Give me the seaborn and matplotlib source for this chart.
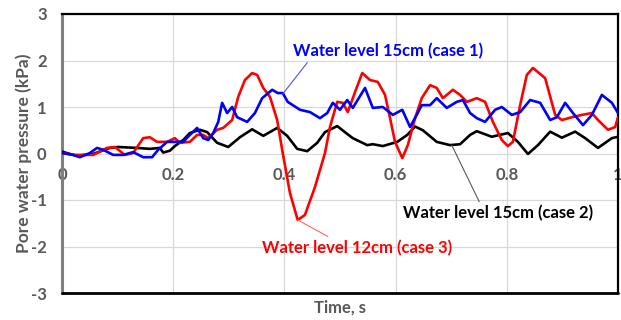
import matplotlib
matplotlib.use("Agg")
import matplotlib.pyplot as plt
import seaborn as sns
import pandas as pd

# ---- data ----
t_case2 = [0, .026, .056, .086, .101, .135, .158, .176, .182, .194, .203, .218, .230, .248, .261, .279,
           .299, .320, .342, .362, .387, .405, .423, .441, .459, .473, .495, .513, .523, .549, .559, .577,
           .603, .621, .635, .649, .674, .698, .716, .734, .746, .773, .802, .820, .838, .856, .878, .899,
           .923, .941, .964, .989, 1.0]
v_case2 = [.04, -.05, -.01, .12, .14, .12, .10, .12, .02, .06, .16, .29, .44, .51, .46, .23,
           .14, .35, .52, .38, .55, .38, .10, .05, .23, .46, .59, .42, .33, .18, .20, .16,
           .25, .40, .58, .50, .25, .18, .20, .40, .48, .36, .44, .25, -.01, .18, .47, .34,
           .47, .33, .12, .33, .36]

t_case1 = [0, .020, .032, .050, .063, .074, .092, .110, .128, .146, .162, .173, .189, .203, .218, .230,
           .243, .254, .263, .272, .281, .288, .297, .306, .315, .333, .347, .360, .378, .388, .397, .406,
           .428, .446, .464, .477, .487, .500, .513, .523, .545, .559, .577, .595, .612, .626, .638, .647,
           .662, .674, .692, .710, .721, .734, .746, .761, .779, .791, .809, .824, .842, .860, .878, .890,
           .905, .919, .937, .953, .971, .989, 1.0]
v_case1 = [.01, -.03, -.08, .01, .12, .08, -.03, -.03, .03, -.08, -.08, .08, .25, .25, .25, .40,
           .55, .33, .29, .44, .68, 1.09, .87, 1.00, .78, .68, .87, 1.19, 1.37, 1.30, 1.30, 1.11,
           .94, .89, .76, .87, 1.09, .94, 1.15, .98, 1.41, .98, 1.00, .83, .94, .57, .83, 1.04,
           1.04, 1.19, .98, 1.11, 1.15, .87, .76, .68, .94, 1.00, .83, .89, 1.15, 1.09, .72, .78,
           1.09, .87, .61, .83, 1.26, 1.09, .87]

t_case3 = [0, .023, .038, .056, .081, .095, .113, .128, .146, .158, .171, .189, .203, .212, .230, .243,
           .254, .263, .279, .290, .306, .317, .329, .342, .351, .362, .374, .387, .397, .410, .424, .437,
           .455, .473, .482, .495, .505, .514, .527, .540, .554, .568, .581, .590, .599, .612, .622, .635,
           .647, .662, .674, .685, .703, .716, .728, .746, .761, .775, .791, .802, .811, .824, .836, .847,
           .869, .887, .899, .917, .935, .953, .964, .982, .995, 1.0]
v_case3 = [.01, -.03, -.03, -.03, .12, .14, -.03, .01, .33, .35, .25, .25, .33, .23, .25, .40,
           .40, .33, .51, .55, .72, 1.22, 1.58, 1.73, 1.69, 1.41, 1.22, .72, .01, -.85, -1.43, -1.32,
           -.72, .01, .57, 1.11, 1.09, .89, 1.32, 1.73, 1.58, 1.54, 1.26, .76, .25, -.10, .18, .76,
           1.19, 1.47, 1.41, 1.19, 1.37, 1.26, 1.11, 1.19, 1.11, .68, .29, .16, .25, 1.04, 1.69, 1.84,
           1.62, .83, .72, .78, .83, .87, .72, .51, .57, .78]

series_names = ["case2", "case3", "case1"]
x_ticks = [0, 0.2, 0.4, 0.6, 0.8, 1]
x_tick_labels = ["0", "0.2", "0.4", "0.6", "0.8", "1"]
y_ticks = [-3, -2, -1, 0, 1, 2, 3]
y_tick_labels = ["-3", "-2", "-1", "0", "1", "2", "3"]

df = pd.concat([
    pd.DataFrame({"t": t_case2, "v": v_case2, "case": "case2"}),
    pd.DataFrame({"t": t_case3, "v": v_case3, "case": "case3"}),
    pd.DataFrame({"t": t_case1, "v": v_case1, "case": "case1"}),
], ignore_index=True)

sns.set_theme(style="white")
plt.rcParams["font.family"] = ["Lato", "DejaVu Sans"]

fig = plt.figure(figsize=(6.21, 3.2), dpi=100)
ax = fig.add_axes([62 / 621, 27 / 320, 556 / 621, 279 / 320])

palette = {"case1": "#0000FF", "case2": "#000000", "case3": "#FF0000"}
sns.lineplot(data=df, x="t", y="v", hue="case", hue_order=series_names, palette=palette,
             sort=False, estimator=None, legend=False, linewidth=1.9, ax=ax, zorder=3)

ax.set_xlim(0, 1)
ax.set_ylim(-3, 3)
ax.set_xticks(x_ticks)
ax.set_xticklabels(x_tick_labels)
ax.set_yticks(y_ticks)
ax.set_yticklabels(y_tick_labels)

ax.grid(True, color="#d9d9d9", linewidth=0.9, zorder=0)
ax.set_axisbelow(True)

gray = "#595959"
for s in ["top", "right"]:
    ax.spines[s].set_color("black")
    ax.spines[s].set_linewidth(1.6)
ax.spines["left"].set_color("#808080")
ax.spines["left"].set_linewidth(2.2)
ax.spines["bottom"].set_position(("data", 0))
ax.spines["bottom"].set_visible(False)
ax.plot([0, 1], [-3, -3], color="black", linewidth=2.0, clip_on=False, zorder=5)

fs = 12
ax.tick_params(axis="x", length=0, pad=10, labelsize=fs, labelcolor=gray)
ax.tick_params(axis="y", length=0, pad=11, labelsize=fs, labelcolor=gray)
for lab in ax.get_xticklabels() + ax.get_yticklabels():
    lab.set_fontweight("bold")

ax.set_xlabel("Time, s", fontsize=fs, fontweight="bold", color=gray, labelpad=0)
ax.xaxis.set_label_coords(0.5, -0.022)
ax.set_ylabel("Pore water pressure (kPa)", fontsize=12.5, fontweight="bold", color=gray)
ax.yaxis.set_label_coords(-0.054, 0.5)

ann_kw = dict(fontsize=fs, fontweight="bold", ha="center", va="center")
ax.annotate("Water level 15cm (case 1)", xy=(0.397, 1.28), xytext=(0.586, 2.20),
            color="#0000FF", arrowprops=dict(arrowstyle="-", color="#4d4dff", lw=0.8,
                                             shrinkA=0, shrinkB=0, relpos=(0.09, 0.0)), **ann_kw)
ax.annotate("Water level 12cm (case 3)", xy=(0.424, -1.43), xytext=(0.530, -2.03),
            color="#FF0000", arrowprops=dict(arrowstyle="-", color="#ff6666", lw=0.8,
                                             shrinkA=0, shrinkB=0, relpos=(0.38, 1.0)), **ann_kw)
ax.annotate("Water level 15cm (case 2)", xy=(0.701, 0.18), xytext=(0.784, -1.28),
            color="black", arrowprops=dict(arrowstyle="-", color="#595959", lw=0.8,
                                           shrinkA=0, shrinkB=0, relpos=(0.41, 1.0)), **ann_kw)

fig.savefig("out.png", dpi=100)
